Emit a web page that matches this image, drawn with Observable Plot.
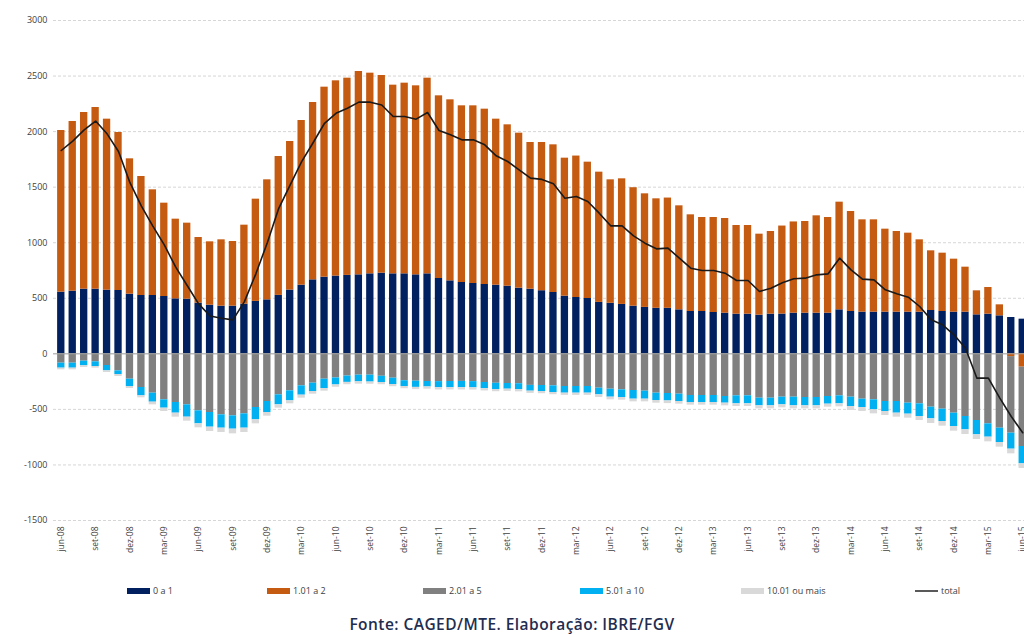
<!DOCTYPE html>
<html>
<head>
<meta charset="utf-8">
<script src="https://cdn.jsdelivr.net/npm/d3@7"></script>
<script src="https://cdn.jsdelivr.net/npm/@observablehq/plot@0.6"></script>
<style>
  html, body { margin: 0; padding: 0; background: #fff; overflow: hidden; }
  #wrap { position: relative; width: 1024px; height: 635px; overflow: hidden; font-family: "Open Sans", sans-serif; }
  #chart { position: absolute; left: 0; top: 0; width: 1040px; }
  #chart svg { max-width: none !important; }
  .leg { position: absolute; top: 584px; font-size: 9px; color: #404040; display: flex; align-items: center; white-space: nowrap; }
  .sw { display: inline-block; width: 23px; height: 6px; margin-right: 3px; }
  .ln { display: inline-block; width: 23px; height: 2px; margin-right: 3px; background: #595959; }
  #caption { position: absolute; top: 613px; left: 0; width: 1024px; text-align: center; font-size: 15.5px; font-weight: 600; color: #1f2d50; letter-spacing: 0.45px; }
</style>
</head>
<body>
<div id="wrap">
  <div id="chart"></div>
  <div id="legend"></div>
  <div id="caption">Fonte: CAGED/MTE. Elaboração: IBRE/FGV</div>
</div>
<script>
const months = [
  "jun-08","jul-08","ago-08","set-08","out-08","nov-08","dez-08","jan-09","fev-09","mar-09","abr-09","mai-09",
  "jun-09","jul-09","ago-09","set-09","out-09","nov-09","dez-09","jan-10","fev-10","mar-10","abr-10","mai-10",
  "jun-10","jul-10","ago-10","set-10","out-10","nov-10","dez-10","jan-11","fev-11","mar-11","abr-11","mai-11",
  "jun-11","jul-11","ago-11","set-11","out-11","nov-11","dez-11","jan-12","fev-12","mar-12","abr-12","mai-12",
  "jun-12","jul-12","ago-12","set-12","out-12","nov-12","dez-12","jan-13","fev-13","mar-13","abr-13","mai-13",
  "jun-13","jul-13","ago-13","set-13","out-13","nov-13","dez-13","jan-14","fev-14","mar-14","abr-14","mai-14",
  "jun-14","jul-14","ago-14","set-14","out-14","nov-14","dez-14","jan-15","fev-15","mar-15","abr-15","mai-15",
  "jun-15"
];
const tickLabels = [
  "jun-08","set-08","dez-08","mar-09","jun-09","set-09","dez-09","mar-10","jun-10","set-10",
  "dez-10","mar-11","jun-11","set-11","dez-11","mar-12","jun-12","set-12","dez-12","mar-13",
  "jun-13","set-13","dez-13","mar-14","jun-14","set-14","dez-14","mar-15","jun-15"
];
const yTicks = [-1500, -1000, -500, 0, 500, 1000, 1500, 2000, 2500, 3000];

const seriesNames = ["0 a 1", "1.01 a 2", "2.01 a 5", "5.01 a 10", "10.01 ou mais"];
const seriesColors = ["#002060", "#C55A11", "#808080", "#00B0F0", "#D9D9D9"];

const s0a1 = [
  555,564,582,582,573,570,537,525,525,516,495,492,
  456,438,429,429,447,472,486,526,574,618,666,690,
  700,706,711,720,726,720,720,711,720,678,657,642,
  633,624,618,609,591,582,568,552,519,507,498,463,
  455,445,429,418,410,410,396,381,381,372,366,357,
  357,348,357,358,366,366,366,366,396,381,375,375,
  375,375,375,375,390,381,375,375,351,357,342,327,
  312
];
const s101a2 = [
  1455,1527,1590,1635,1539,1422,1218,1071,951,840,717,684,
  591,570,597,582,711,920,1080,1250,1337,1482,1596,1710,
  1757,1775,1830,1806,1779,1698,1716,1701,1761,1644,1629,1590,
  1599,1578,1494,1452,1395,1320,1334,1329,1242,1273,1227,1172,
  1111,1130,1066,1022,985,992,936,870,846,855,852,798,
  798,729,744,792,821,825,876,861,969,900,831,831,
  747,726,711,651,537,525,477,405,216,240,99,-25,
  -120
];
const s201a5 = [
  -84,-84,-66,-72,-105,-153,-228,-303,-354,-414,-438,-459,
  -513,-528,-549,-558,-540,-483,-429,-369,-333,-288,-264,-228,
  -217,-200,-192,-192,-202,-219,-242,-246,-249,-250,-249,-248,
  -250,-258,-265,-267,-269,-284,-285,-288,-294,-294,-294,-309,
  -318,-324,-330,-336,-354,-357,-363,-375,-375,-375,-384,-378,
  -378,-399,-399,-390,-390,-393,-393,-384,-378,-390,-408,-414,
  -429,-429,-444,-450,-480,-498,-534,-564,-600,-630,-669,-689,
  -714
];
const s501a10 = [
  -45,-45,-42,-42,-48,-33,-66,-75,-81,-75,-96,-111,
  -117,-132,-120,-120,-129,-111,-99,-90,-90,-84,-75,-84,
  -63,-57,-60,-62,-56,-57,-52,-56,-49,-55,-56,-57,
  -56,-56,-56,-51,-53,-52,-54,-60,-60,-60,-60,-60,
  -72,-69,-78,-72,-66,-67,-66,-63,-63,-63,-60,-72,
  -72,-69,-69,-69,-78,-75,-75,-69,-72,-84,-75,-90,
  -90,-105,-99,-114,-105,-111,-120,-120,-129,-120,-129,-144,
  -156
];
const s1001 = [
  -15,-15,-15,-15,-15,-18,-18,-18,-24,-30,-36,-36,
  -36,-39,-39,-42,-39,-36,-33,-30,-27,-27,-24,-24,
  -21,-21,-21,-20,-20,-20,-20,-20,-20,-20,-20,-20,
  -20,-20,-20,-20,-20,-20,-20,-20,-20,-20,-20,-24,
  -24,-24,-24,-24,-24,-24,-24,-24,-24,-24,-24,-24,
  -24,-27,-27,-27,-27,-27,-27,-27,-27,-36,-36,-36,
  -36,-36,-36,-36,-42,-42,-42,-42,-42,-42,-42,-42,
  -42
];
const total = [
  1830,1915,2016,2095,1980,1821,1540,1330,1150,980,780,615,
  450,340,320,306,470,720,1000,1310,1520,1730,1900,2075,
  2165,2210,2265,2265,2240,2136,2136,2112,2172,2010,1971,1926,
  1926,1881,1782,1731,1656,1581,1570,1530,1401,1416,1371,1266,
  1152,1152,1062,996,945,951,861,771,750,750,726,660,
  660,561,591,640,676,681,711,720,861,756,672,666,
  576,540,510,426,306,261,171,51,-219,-219,-399,-564,
  -710
];

const seriesValues = [s0a1, s101a2, s201a5, s501a10, s1001];
const barData = [];
months.forEach((m, i) => {
  seriesNames.forEach((s, k) => {
    barData.push({month: m, series: s, value: seriesValues[k][i]});
  });
});
const lineData = months.map((m, i) => ({month: m, value: total[i]}));

const chart = Plot.plot({
  width: 1040,
  height: 570,
  marginLeft: 53,
  marginRight: 10,
  marginTop: 20,
  marginBottom: 50,
  style: {fontFamily: "'Open Sans', sans-serif", background: "#fff", overflow: "visible", maxWidth: "none"},
  x: {type: "band", domain: months, padding: 0.36},
  y: {domain: [-1500, 3000]},
  color: {domain: seriesNames, range: seriesColors},
  marks: [
    Plot.gridY(yTicks.filter(d => d !== 0), {stroke: "#d6d6d6", strokeOpacity: 1, strokeDasharray: "3,2"}),
    Plot.barY(barData, {x: "month", y: "value", fill: "series", order: seriesNames}),
    Plot.ruleY([0], {stroke: "#9a9a9a", strokeWidth: 1}),
    Plot.lineY(lineData, {x: "month", y: "value", stroke: "#1a1a1a", strokeWidth: 1.6}),
    Plot.axisY(yTicks, {tickSize: 0, tickPadding: 6, fontSize: 9, fill: "#404040", tickFormat: d => String(d), label: null}),
    Plot.axisX(tickLabels, {tickSize: 0, tickPadding: 6, tickRotate: -90, fontSize: 8.5, fill: "#404040", label: null})
  ]
});
document.getElementById("chart").appendChild(chart);

// Legend
const legendItems = [
  {label: "0 a 1", color: seriesColors[0], x: 127, type: "rect"},
  {label: "1.01 a 2", color: seriesColors[1], x: 267, type: "rect"},
  {label: "2.01 a 5", color: seriesColors[2], x: 423, type: "rect"},
  {label: "5.01 a 10", color: seriesColors[3], x: 580, type: "rect"},
  {label: "10.01 ou mais", color: seriesColors[4], x: 741, type: "rect"},
  {label: "total", color: "#595959", x: 915, type: "line"}
];
const leg = document.getElementById("legend");
legendItems.forEach(it => {
  const d = document.createElement("div");
  d.className = "leg";
  d.style.left = it.x + "px";
  const s = document.createElement("span");
  s.className = it.type === "line" ? "ln" : "sw";
  s.style.background = it.color;
  d.appendChild(s);
  d.appendChild(document.createTextNode(it.label));
  leg.appendChild(d);
});
</script>
</body>
</html>
